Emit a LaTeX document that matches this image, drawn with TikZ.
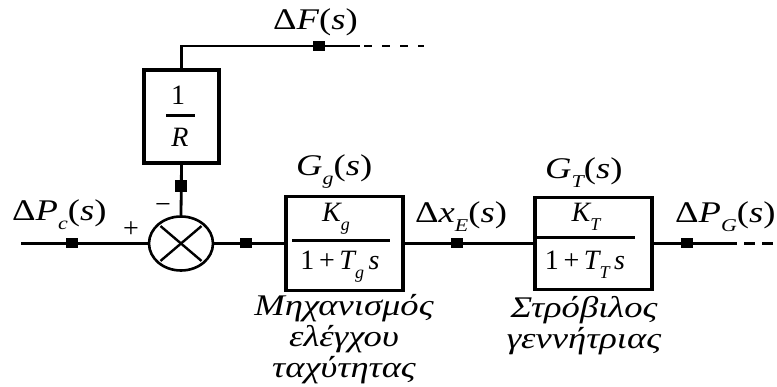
\documentclass[tikz,border=0pt]{standalone}
\usepackage{fontspec}
\setmainfont{Liberation Serif}
\usetikzlibrary{shapes.geometric}
\newcommand\sbx[1]{\raisebox{-0.3em}{\fontsize{18}{18}\selectfont\itshape #1}}
\newcommand\iv[1]{{\itshape #1}}
\newcommand\wide[1]{\scalebox{1.22}[1]{#1}}
\tikzset{
  ln/.style={line width=2.8pt},
  blk/.style={draw, line width=3.2pt, rectangle, inner sep=0pt},
  mk/.style={fill=black, draw=none, rectangle, minimum width=12pt, minimum height=10pt, inner sep=0pt},
  vmk/.style={fill=black, draw=none, rectangle, minimum width=12pt, minimum height=12pt, inner sep=0pt},
  lbl/.style={inner sep=0pt, anchor=base west, font=\fontsize{30}{31}\selectfont},
  gr/.style={inner sep=0pt, anchor=base, font=\fontsize{30}{31}\selectfont\itshape},
  txt/.style={inner sep=0pt, anchor=base, font=\fontsize{28}{29}\selectfont}
}
\begin{document}
\begin{tikzpicture}[x=1pt,y=-1pt]
\useasboundingbox (0,0) rectangle (777,387);
% blocks
\node[blk, minimum width=117pt, minimum height=94pt] (bg) at (344.5,243.5) {};
\node[blk, minimum width=117pt, minimum height=92pt] (bt) at (593.5,243.5) {};
\node[blk, minimum width=75pt, minimum height=93pt] (br) at (181.5,116.5) {};
\node[draw, ellipse, line width=2.6pt, minimum width=64pt, minimum height=54pt, inner sep=0pt] (sum) at (181,243.5) {};
\draw[line width=2.4pt, shorten <=4pt, shorten >=4pt] (sum.north west) -- (sum.south east);
\draw[line width=2.4pt, shorten <=4pt, shorten >=4pt] (sum.north east) -- (sum.south west);
% fraction lines
\coordinate (fg1) at (292,241); \coordinate (fg2) at (390,241);
\draw[line width=3pt] (fg1) -- (fg2);
\coordinate (ft1) at (537,238); \coordinate (ft2) at (635,238);
\draw[line width=3pt] (ft1) -- (ft2);
\coordinate (fr1) at (166,116); \coordinate (fr2) at (195,116);
\draw[line width=3pt] (fr1) -- (fr2);
% block texts
\node[txt] (kg) at (336,222) {\iv{K}\sbx{g}};
\node[txt] (dg) at (340,270) {1\,+\,\iv{T}\sbx{g}\,\iv{s}};
\node[txt] (kt) at (586,222) {\iv{K}\sbx{T}};
\node[txt] (dt) at (585,270) {1\,+\,\iv{T}\sbx{T}\,\iv{s}};
\node[txt] (r1) at (178,105) {1};
\node[txt] (r2) at (180,147) {\iv{R}};
% connectors
\coordinate (in) at (21,243.5);
\draw[ln] (in) -- (sum.west);
\node[mk] (m1) at (72,243.5) {};
\draw[ln] (sum.east) -- (bg.west);
\node[mk] (m2) at (246,243.5) {};
\draw[ln] (bg.east) -- (bt.west);
\node[mk] (m3) at (457,243.5) {};
\coordinate (o1) at (737,243.5);
\coordinate (o2) at (777,243.5);
\draw[ln] (bt.east) -- (o1);
\draw[ln, dash pattern=on 11pt off 7pt] ([xshift=7pt]o1) -- (o2);
\node[mk] (m4) at (687,243.5) {};
% feedback
\draw[ln] (br.south) -- (sum.north);
\node[vmk] (m5) at (181,186) {};
\coordinate (tc) at (181.5,46);
\coordinate (t1) at (360,46);
\coordinate (t2) at (424,46);
\draw[ln] (br.north) -- (tc) -- (t1);
\draw[ln, dash pattern=on 8pt off 10pt] ([xshift=4pt]t1) -- (t2);
\node[mk] (m6) at (319,46) {};
% labels
\node[lbl] (lF) at (273,30) {\wide{Δ\iv{F}(\iv{s})}};
\node[lbl] (lPc) at (12,221) {\wide{Δ\iv{P}\sbx{c}(\iv{s})}};
\node[lbl] (lGg) at (296,176) {\wide{\iv{G}\sbx{g}(\iv{s})}};
\node[lbl] (lx) at (415,223) {\wide{Δ\iv{x}\sbx{E}(\iv{s})}};
\node[lbl] (lGt) at (545,179) {\wide{\iv{G}\sbx{T}(\iv{s})}};
\node[lbl] (lPg) at (675,223) {\wide{Δ\iv{P}\sbx{G}(\iv{s})}};
\node[txt, font=\fontsize{28}{28}\selectfont] (plus) at (131,238) {+};
\node[txt, font=\fontsize{28}{28}\selectfont] (minus) at (163,214) {−};
% greek captions
\node[gr] (g1) at (344,316) {\wide{Μηχανισμός}};
\node[gr] (g2) at (344,347) {\wide{ελέγχου}};
\node[gr] (g3) at (344,378) {\wide{ταχύτητας}};
\node[gr] (s1) at (584,318) {\wide{Στρόβιλος}};
\node[gr] (s2) at (584,349) {\wide{γεννήτριας}};
\end{tikzpicture}
\end{document}
